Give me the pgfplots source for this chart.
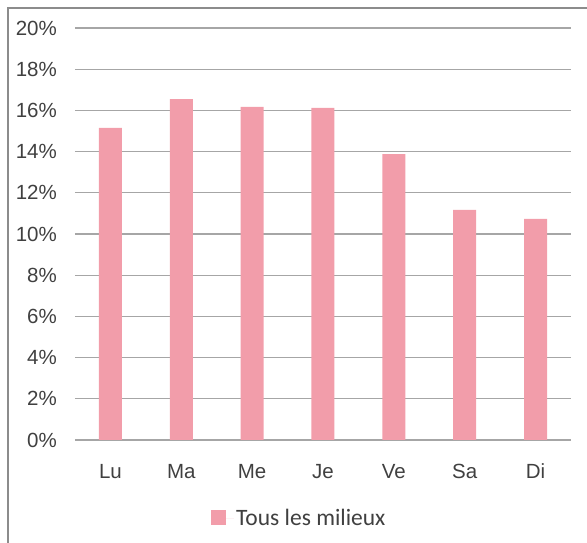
\documentclass[border=0pt]{standalone}
\usepackage{fontspec}
\setmainfont{Liberation Sans}
\newfontfamily\legfont{Carlito}
\usepackage{pgfplots}
\pgfplotsset{compat=1.18}
\definecolor{barpink}{HTML}{F29DAA}
\definecolor{txt}{HTML}{404040}
\definecolor{gridc}{HTML}{A6A6A6}
\definecolor{framec}{HTML}{8C8C8C}
\begin{document}
\begin{tikzpicture}[x=1pt,y=1pt]
  % canvas in pixel units of the reference: plot area lower-left at (75,440)
  \path[use as bounding box] (-75,-103) rectangle (512,440);
  \draw[framec, line width=1.2pt] (-67,-103) -- (-67,432) -- (512,432);
  \begin{axis}[
      at={(0,0)}, anchor=south west,
      scale only axis, width=496pt, height=412pt,
      ybar, bar width=23pt,
      xmin=-0.5, xmax=6.5, ymin=0, ymax=20,
      xtick=data, xticklabels={Lu,Ma,Me,Je,Ve,Sa,Di},
      ytick={0,2,...,20},
      yticklabels={0\%,2\%,4\%,6\%,8\%,10\%,12\%,14\%,16\%,18\%,20\%},
      major tick length=0pt,
      axis line style={draw=none},
      ymajorgrids, grid style={gridc, line width=1.2pt},
      tick label style={font=\fontsize{20.5}{24}\selectfont, text=txt},
      yticklabel style={anchor=east, inner sep=0pt, xshift=-18pt},
      xticklabel style={anchor=base, inner sep=0pt, yshift=-39pt},
      legend style={at={(0.274,-0.189)}, anchor=west, draw=none,
        font=\legfont\fontsize{23.5}{28}\selectfont, text=txt,
        inner sep=0pt, legend cell align=left},
      legend image code/.code={
        \path (0pt,0pt) rectangle (23pt,0pt);
        \fill[barpink] (0pt,-7.5pt) rectangle (15pt,7.5pt);},
      legend style={/tikz/every even column/.append style={column sep=0pt}},
    ]
    \addplot[fill=barpink, draw=none] coordinates {
        (0,15.15) (1,16.55) (2,16.17) (3,16.12) (4,13.88) (5,11.17) (6,10.73)
      };
    \addlegendentry{Tous les milieux}
  \end{axis}
\end{tikzpicture}
\end{document}
